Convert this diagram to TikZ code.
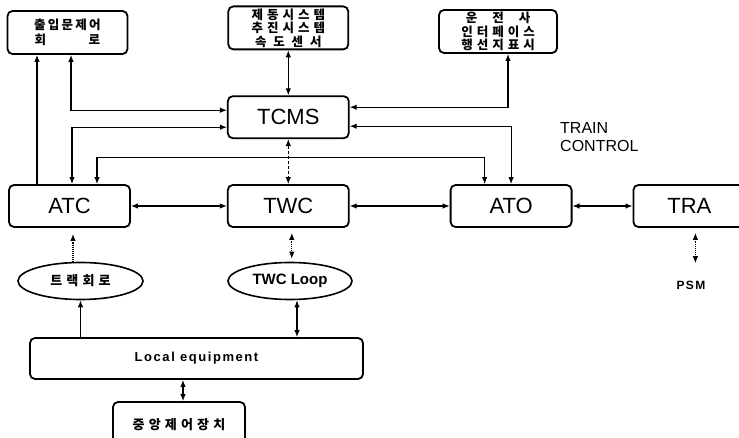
\documentclass[tikz,border=0pt]{standalone}
\usepackage{fontspec}
\setmainfont{Liberation Sans}
\newfontfamily\kor[LetterSpace=32]{Noto Sans CJK KR}
\usepackage{tikz}
\usetikzlibrary{arrows.meta,positioning,calc,shapes.geometric}

\begin{document}
\begin{tikzpicture}[
    x=1pt,y=-1pt,
    >={Latex[length=7pt,width=5.5pt]},
    link/.style={<->,line width=1.1pt,draw=black},
    dotlink/.style={<->,line width=1.1pt,densely dotted},
    unit/.style={draw,line width=1.8pt,rounded corners=5pt,
      minimum width=121pt,minimum height=42pt,inner sep=0pt,
      font=\fontsize{22}{24}\selectfont},
    subsys/.style={draw,line width=1.8pt,rounded corners=5pt,
      minimum width=120pt,minimum height=43pt,inner sep=0pt,align=center,
      font=\kor\bfseries\fontsize{12.5}{13.5}\selectfont},
    panel/.style={draw,line width=1.8pt,rounded corners=5pt,inner sep=0pt},
    field/.style={draw,ellipse,line width=1.6pt,minimum width=125pt,
      minimum height=37pt,inner sep=0pt}
  ]
    \useasboundingbox (0,0) rectangle (739,438);
    % train control row
    \node[unit] (atc) at (69.5,206) {ATC};
    \node[unit,right=96pt of atc] (twc) {TWC};
    \node[unit,right=100pt of twc] (ato) {ATO};
    \node[unit,right=60pt of ato,minimum width=112pt] (tra) {TRA};
    \node[unit,above=45pt of twc] (tcms) {TCMS};
    % on-board subsystems
    \node[subsys,above=45pt of tcms] (brake) {제동시스템\\추진시스템\\속 도 센 서};
    \node[subsys,font=\kor\bfseries\fontsize{12.5}{15}\selectfont\addfontfeatures{LetterSpace=18}]
      (door) at (67.5,32.5) {출입문제어\\회\hspace{3.4em}로};
    \node[subsys,minimum width=118pt] (driver) at (498,31.5)
      {운\hspace{1.2em}전\hspace{1.2em}사\\인터페이스\\행선지표시};
    \node[anchor=north west,align=left,inner sep=0pt,
      font=\fontsize{16}{18}\selectfont] (title) at (560,122) {TRAIN\\CONTROL};
    % wayside
    \node[field,font=\kor\bfseries\fontsize{13}{14}\selectfont] (track) at (80.5,281) {트랙회로};
    \node[field,minimum width=124pt,font=\bfseries\fontsize{15}{16}\selectfont]
      (twcloop) at (290,281) {TWC Loop};
    \node[font=\bfseries\fontsize{12}{13}\selectfont\addfontfeatures{LetterSpace=12}]
      (psm) at (691,285) {PSM};
    \node[panel,minimum width=333pt,minimum height=41pt,
      font=\bfseries\fontsize{13}{15}\selectfont\addfontfeatures{LetterSpace=12}]
      (local) at (196.5,358.5) {Local equipment};
    \node[panel,minimum width=132pt,minimum height=46pt,
      font=\kor\bfseries\fontsize{13}{14}\selectfont] (central) at (179,425) {중앙제어장치};

    % connections
    \draw[link,<-] ([xshift=-32.5pt]atc.north |- door.south) -- ([xshift=-32.5pt]atc.north);
    \draw[link] ([xshift=3.5pt]door.south) |- ([yshift=7pt]tcms.west);
    \draw[link] ([yshift=-10pt]tcms.west) -| ([xshift=2.5pt]atc.north);
    \draw[link] ([xshift=27.5pt]atc.north) -- ++(0,27pt) -| ([xshift=-26.5pt]ato.north);
    \draw[link] (tcms.north) -- (brake.south);
    \draw[link,densely dashed] (tcms.south) -- (twc.north);
    \draw[link] ([yshift=10pt]tcms.east) -| ([xshift=10pt]driver.south);
    \draw[link] ([yshift=-9pt]tcms.east) -| (ato.north);
    \draw[link] (atc.east) -- (twc.west);
    \draw[link] (twc.east) -- (ato.west);
    \draw[link] (ato.east) -- (ato.east -| tra.west);
    \draw[dotlink,<-,shorten <=6pt] ([xshift=3.5pt]atc.south)
      -- ([xshift=3.5pt]atc.south |- track.north);
    \draw[dotlink,shorten <=5pt,shorten >=3pt] ([xshift=3.5pt]twc.south)
      -- ([xshift=3.5pt]twc.south |- twcloop.north);
    \draw[dotlink,shorten <=5pt,shorten >=14pt] ([xshift=6pt]tra.south)
      -- ([xshift=6pt]tra.south |- psm.north);
    \draw[link,->] (track.south |- local.north) -- (track.south);
    \draw[link] ([xshift=7pt]twcloop.south) -- ([xshift=7pt]twcloop.south |- local.north);
    \draw[link] ([xshift=4pt]central.north) -- ([xshift=4pt]central.north |- local.south);
  \end{tikzpicture}
\end{document}
